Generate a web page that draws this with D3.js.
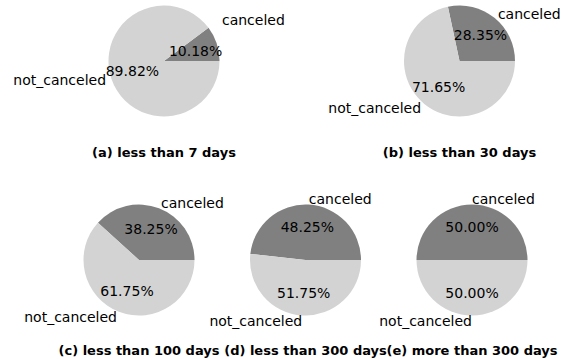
<!DOCTYPE html>
<html>
<head>
<meta charset="utf-8">
<script src="https://cdn.jsdelivr.net/npm/d3@7"></script>
<style>
  html, body { margin: 0; padding: 0; background: #ffffff; }
  svg { display: block; font-family: "DejaVu Sans", sans-serif; }
</style>
</head>
<body>
<svg id="chart" width="563" height="359"></svg>
<script>
// Cancellation share by lead time
const categories = ["canceled", "not_canceled"];
const panelTitles = [
  "(a) less than 7 days",
  "(b) less than 30 days",
  "(c) less than 100 days",
  "(d) less than 300 days",
  "(e) more than 300 days"
];
const canceledPct    = [10.18, 28.35, 38.25, 48.25, 50.00];
const notCanceledPct = [89.82, 71.65, 61.75, 51.75, 50.00];

const colors = { canceled: "#808080", not_canceled: "#d3d3d3" };

// Panel placement (pie centres, title baselines)
const panelCx = [164, 459.5, 139, 305.5, 472];
const panelCy = [61, 61, 260, 260, 260];
const titleY  = [156.5, 156.5, 354.5, 354.5, 354.5];
const radius = 55.5;
// the first panel's "canceled" label sits a little higher than its wedge
const labelShiftY = [[-21.5, 0], [0, 0], [0, 0], [0, 0], [0, 0]];

const svg = d3.select("#chart");

// wedges start at 3 o'clock and run counter-clockwise
const pie = d3.pie()
  .sort(null)
  .value(d => d.value)
  .startAngle(Math.PI / 2)
  .endAngle(Math.PI / 2 - 2 * Math.PI);

const arc = d3.arc().innerRadius(0).outerRadius(radius);

panelTitles.forEach((title, i) => {
  const data = [
    { key: categories[0], value: canceledPct[i] },
    { key: categories[1], value: notCanceledPct[i] }
  ];
  const total = d3.sum(data, d => d.value);
  const g = svg.append("g")
    .attr("transform", `translate(${panelCx[i]},${panelCy[i]})`);

  const slices = pie(data);

  g.selectAll("path.wedge")
    .data(slices)
    .join("path")
    .attr("class", "wedge")
    .attr("d", arc)
    .attr("fill", d => colors[d.data.key]);

  let cum = 0;
  slices.forEach((s, j) => {
    // mid angle, counter-clockwise from east, from the cumulative fraction
    const f0 = cum / total, f1 = (cum + s.data.value) / total;
    cum += s.data.value;
    const theta = 2 * Math.PI * 0.5 * (f0 + f1);
    const cx = Math.cos(theta), cy = Math.sin(theta);
    const lx = 1.1 * radius * cx, ly = -1.1 * radius * cy + labelShiftY[i][j];
    g.append("text")
      .attr("x", lx)
      .attr("y", ly)
      .attr("text-anchor", cx > 0 ? "start" : "end")
      .attr("dominant-baseline", "central")
      .attr("font-size", "14px")
      .attr("fill", "#000")
      .text(s.data.key);

    g.append("text")
      .attr("x", 0.6 * radius * cx)
      .attr("y", -0.6 * radius * cy)
      .attr("text-anchor", "middle")
      .attr("dominant-baseline", "central")
      .attr("font-size", "14px")
      .attr("fill", "#000")
      .text(d3.format(".2f")(s.data.value) + "%");
  });

  svg.append("text")
    .attr("x", panelCx[i])
    .attr("y", titleY[i])
    .attr("text-anchor", "middle")
    .attr("font-size", "13px")
    .attr("font-weight", "bold")
    .attr("fill", "#000")
    .text(title);
});
</script>
</body>
</html>
